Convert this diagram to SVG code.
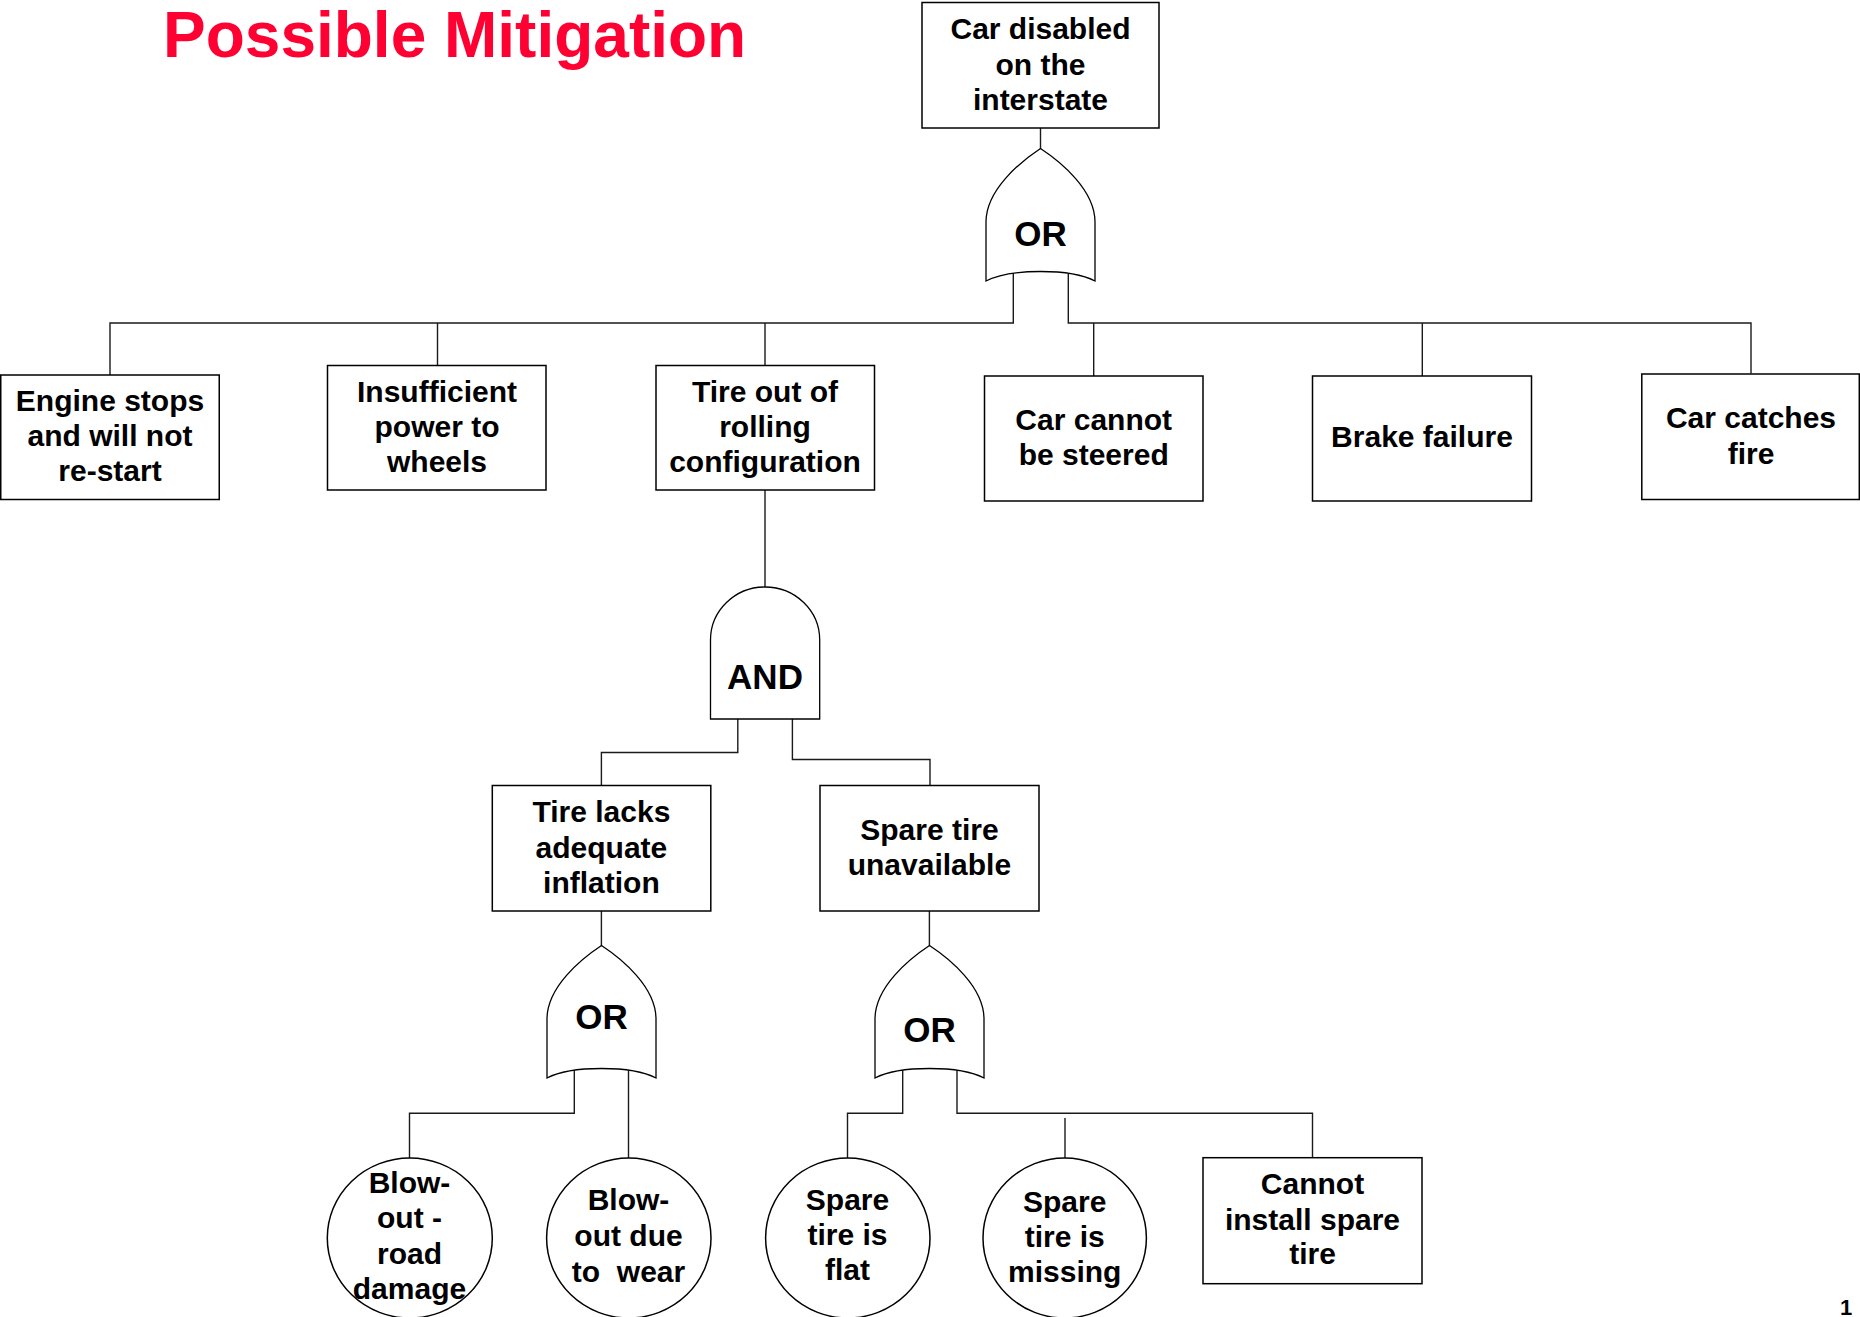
<svg xmlns="http://www.w3.org/2000/svg" xmlns:xlink="http://www.w3.org/1999/xlink" width="1860" height="1317" viewBox="0 0 1860 1317">
<style>
.box{fill:#fff;stroke:#000;stroke-width:1.5}
.gate{fill:#fff;stroke:#000;stroke-width:1.3}
.ln{fill:none;stroke:#1a1a1a;stroke-width:1.4}
.t{font-family:"Liberation Sans",Arial,sans-serif;font-weight:bold;font-size:30px;fill:#000;text-anchor:middle}
.g{font-family:"Liberation Sans",Arial,sans-serif;font-weight:bold;font-size:35px;fill:#000;text-anchor:middle}
.title{font-family:"Liberation Sans",Arial,sans-serif;font-weight:bold;font-size:64px;fill:#FF0033}
</style>
<defs>
<path id="orgate" d="M0,0 C-20.5,13.5 -54.5,41.5 -54.5,73.5 L-54.5,132.5 C-30.5,119.8 30.5,119.8 54.5,132.5 L54.5,73.5 C54.5,41.5 20.5,13.5 0,0 Z"/>
</defs>
<rect width="1860" height="1317" fill="#fff"/>
<text class="title" x="163" y="57">Possible Mitigation</text>

<g id="connectors">
<path class="ln" d="M1040.5,128 V149"/>
<path class="ln" d="M1013.3,270 V323 H110 V375"/>
<path class="ln" d="M437.5,323 V365.3"/>
<path class="ln" d="M765,323 V365.3"/>
<path class="ln" d="M1068.3,270 V323 H1751 V373.6"/>
<path class="ln" d="M1093.7,323 V376"/>
<path class="ln" d="M1422.3,323 V376"/>
<path class="ln" d="M765,490 V588"/>
<path class="ln" d="M737.8,715 V752.5 H601.4 V785.3"/>
<path class="ln" d="M792.4,715 V759.5 H930 V785.3"/>
<path class="ln" d="M601.4,911 V946"/>
<path class="ln" d="M929.4,911 V946"/>
<path class="ln" d="M574.3,1067 V1113.3 H409.5 V1158.3"/>
<path class="ln" d="M628.5,1067 V1158.3"/>
<path class="ln" d="M902.7,1067 V1113.3 H847.5 V1158.3"/>
<path class="ln" d="M957,1067 V1113.3 H1312.5 V1157.7"/>
<path class="ln" d="M1065,1118 V1158.3"/>
</g>

<g id="top-event">
<rect class="box" x="922" y="2.5" width="237" height="125.5"/>
<text class="t" x="1040.5" y="39">Car disabled</text>
<text class="t" x="1040.5" y="74.5">on the</text>
<text class="t" x="1040.5" y="110">interstate</text>
</g>

<g id="or-gate-1">
<use xlink:href="#orgate" class="gate" transform="translate(1040.5,148.5)"/>
<text class="g" x="1040.5" y="245.5">OR</text>
</g>

<g id="engine-stops">
<rect class="box" x="0.75" y="375" width="218.5" height="124.5"/>
<text class="t" x="110" y="411">Engine stops</text>
<text class="t" x="110" y="446">and will not</text>
<text class="t" x="110" y="481">re-start</text>
</g>

<g id="insufficient-power">
<rect class="box" x="327.5" y="365.5" width="218.5" height="124.5"/>
<text class="t" x="437" y="402">Insufficient</text>
<text class="t" x="437" y="437">power to</text>
<text class="t" x="437" y="472">wheels</text>
</g>

<g id="tire-out">
<rect class="box" x="656" y="365.5" width="218.5" height="124.5"/>
<text class="t" x="765" y="402">Tire out of</text>
<text class="t" x="765" y="437">rolling</text>
<text class="t" x="765" y="472">configuration</text>
</g>

<g id="cannot-steer">
<rect class="box" x="984.5" y="376" width="218.5" height="125"/>
<text class="t" x="1093.7" y="430">Car cannot</text>
<text class="t" x="1093.7" y="465">be steered</text>
</g>

<g id="brake-failure">
<rect class="box" x="1312.5" y="376" width="219" height="125"/>
<text class="t" x="1422" y="447">Brake failure</text>
</g>

<g id="car-fire">
<rect class="box" x="1641.8" y="374" width="217.5" height="125.5"/>
<text class="t" x="1751" y="428">Car catches</text>
<text class="t" x="1751" y="463.5">fire</text>
</g>

<g id="and-gate">
<path class="gate" d="M710.5,719 L710.5,640 A54.6,53 0 0 1 819.7,640 L819.7,719 Z"/>
<text class="g" x="765" y="689">AND</text>
</g>

<g id="tire-lacks">
<rect class="box" x="492.3" y="785.5" width="218.5" height="125.5"/>
<text class="t" x="601.4" y="822">Tire lacks</text>
<text class="t" x="601.4" y="857.5">adequate</text>
<text class="t" x="601.4" y="893">inflation</text>
</g>

<g id="spare-unavailable">
<rect class="box" x="820" y="785.5" width="219" height="125.5"/>
<text class="t" x="929.4" y="839.5">Spare tire</text>
<text class="t" x="929.4" y="875">unavailable</text>
</g>

<g id="or-gate-2">
<use xlink:href="#orgate" class="gate" transform="translate(601.5,945.5)"/>
<text class="g" x="601.5" y="1028.5">OR</text>
</g>

<g id="or-gate-3">
<use xlink:href="#orgate" class="gate" transform="translate(929.5,945.5)"/>
<text class="g" x="929.5" y="1042">OR</text>
</g>

<g id="blowout-road">
<ellipse class="box" cx="409.8" cy="1238" rx="82.5" ry="80"/>
<text class="t" x="409.5" y="1192.5">Blow-</text>
<text class="t" x="409.5" y="1228">out -</text>
<text class="t" x="409.5" y="1263.5">road</text>
<text class="t" x="409.5" y="1299">damage</text>
</g>

<g id="blowout-wear">
<ellipse class="box" cx="628.8" cy="1238" rx="82.2" ry="80"/>
<text class="t" x="628.5" y="1210">Blow-</text>
<text class="t" x="628.5" y="1245.5">out due</text>
<text class="t" x="628.5" y="1281.5" xml:space="preserve">to  wear</text>
</g>

<g id="spare-flat">
<ellipse class="box" cx="847.8" cy="1238" rx="82.2" ry="80"/>
<text class="t" x="847.5" y="1210">Spare</text>
<text class="t" x="847.5" y="1245">tire is</text>
<text class="t" x="847.5" y="1280">flat</text>
</g>

<g id="spare-missing">
<ellipse class="box" cx="1064.7" cy="1238" rx="81.7" ry="80"/>
<text class="t" x="1064.7" y="1212">Spare</text>
<text class="t" x="1064.7" y="1247">tire is</text>
<text class="t" x="1064.7" y="1282">missing</text>
</g>

<g id="cannot-install">
<rect class="box" x="1203" y="1157.7" width="219" height="126"/>
<text class="t" x="1312.5" y="1194">Cannot</text>
<text class="t" x="1312.5" y="1229.5">install spare</text>
<text class="t" x="1312.5" y="1264">tire</text>
</g>

<text x="1840" y="1315" style="font-family:'Liberation Sans',Arial,sans-serif;font-weight:bold;font-size:22px">1</text>
</svg>
